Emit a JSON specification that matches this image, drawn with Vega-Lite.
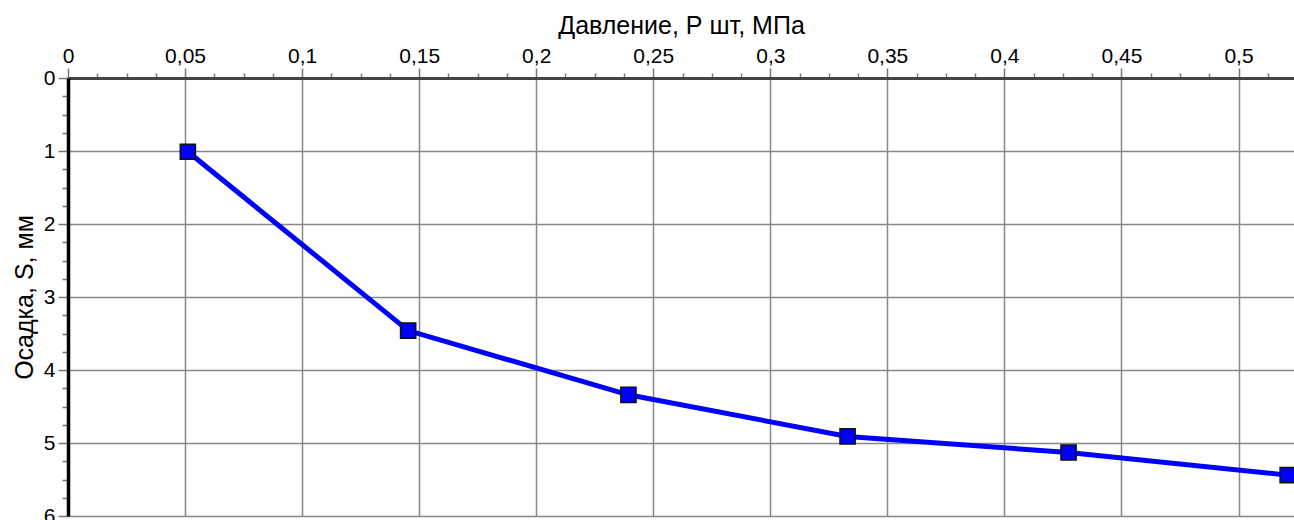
{
  "$schema": "https://vega.github.io/schema/vega-lite/v6.json",
  "width": 1226,
  "height": 438,
  "autosize": {"type": "none"},
  "padding": {"left": 68, "top": 78, "right": 0, "bottom": 4},
  "background": "white",
  "config": {
    "view": {"stroke": null},
    "font": "Liberation Sans"
  },
  "data": {
    "values": [
      {"P": 0.0512, "S": 1.01},
      {"P": 0.1453, "S": 3.46},
      {"P": 0.2394, "S": 4.34},
      {"P": 0.333, "S": 4.91},
      {"P": 0.4274, "S": 5.13},
      {"P": 0.521, "S": 5.44}
    ]
  },
  "encoding": {
    "x": {
      "field": "P", "type": "quantitative",
      "scale": {"domain": [0, 0.5237], "nice": false, "zero": false},
      "axis": {
        "orient": "top",
        "title": "Давление, Р шт, МПа",
        "titleFont": "Liberation Sans",
        "titleFontSize": 25,
        "titleFontWeight": "normal",
        "titleColor": "#000",
        "titlePadding": 7,
        "labelFont": "Liberation Sans",
        "labelFontSize": 21,
        "labelColor": "#000",
        "values": [0,0.0125,0.025,0.0375,0.05,0.0625,0.075,0.0875,0.1,0.1125,0.125,0.1375,0.15,0.1625,0.175,0.1875,0.2,0.2125,0.225,0.2375,0.25,0.2625,0.275,0.2875,0.3,0.3125,0.325,0.3375,0.35,0.3625,0.375,0.3875,0.4,0.4125,0.425,0.4375,0.45,0.4625,0.475,0.4875,0.5,0.5125],
        "labelExpr": "abs(datum.value*20 - round(datum.value*20)) < 0.001 ? replace(format(datum.value, '~g'), '.', ',') : ''",
        "labelPadding": 2,
        "labelFlush": false,
        "labelOverlap": false,
        "tickSize": {"condition": {"test": "abs(datum.value*20 - round(datum.value*20)) < 0.001", "value": 10}, "value": 5},
        "tickColor": "#777",
        "tickWidth": 1.5,
        "grid": true,
        "gridColor": "#888",
        "gridWidth": 1.5,
        "gridOpacity": {"condition": {"test": "abs(datum.value*20 - round(datum.value*20)) < 0.001", "value": 1}, "value": 0},
        "domainColor": "#444",
        "domainWidth": 3
      }
    },
    "y": {
      "field": "S", "type": "quantitative",
      "scale": {"domain": [0, 6], "reverse": true, "nice": false, "zero": false},
      "axis": {
        "orient": "left",
        "title": "Осадка, S, мм",
        "titleFont": "Liberation Sans",
        "titleFontSize": 25,
        "titleFontWeight": "normal",
        "titleColor": "#000",
        "titlePadding": 6,
        "labelFont": "Liberation Sans",
        "labelFontSize": 21,
        "labelColor": "#000",
        "values": [0,0.25,0.5,0.75,1,1.25,1.5,1.75,2,2.25,2.5,2.75,3,3.25,3.5,3.75,4,4.25,4.5,4.75,5,5.25,5.5,5.75,6],
        "labelExpr": "abs(datum.value - round(datum.value)) < 0.001 ? format(datum.value, 'd') : ''",
        "labelPadding": 3,
        "labelFlush": false,
        "labelOverlap": false,
        "tickSize": {"condition": {"test": "abs(datum.value - round(datum.value)) < 0.001", "value": 10}, "value": 6},
        "tickColor": "#777",
        "tickWidth": 1.5,
        "grid": true,
        "gridColor": "#888",
        "gridWidth": 1.5,
        "gridOpacity": {"condition": {"test": "abs(datum.value - round(datum.value)) < 0.001", "value": 1}, "value": 0},
        "domainColor": "#000",
        "domainWidth": 3.5
      }
    }
  },
  "layer": [
    {"mark": {"type": "line", "color": "#0000ff", "strokeWidth": 5}},
    {"mark": {"type": "point", "shape": "square", "filled": true, "fill": "#0000ff", "stroke": "#111", "strokeWidth": 1.5, "size": 230, "opacity": 1}}
  ]
}
